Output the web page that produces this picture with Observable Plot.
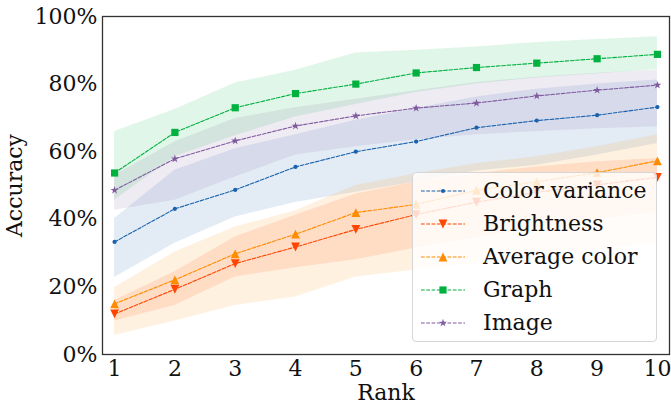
<!DOCTYPE html>
<html>
<head>
<meta charset="utf-8">
<script src="https://cdn.jsdelivr.net/npm/d3@7"></script>
<script src="https://cdn.jsdelivr.net/npm/@observablehq/plot@0.6"></script>
<style>
  html, body { margin: 0; padding: 0; background: white; }
  #wrap { position: relative; width: 671px; height: 404px; }
</style>
</head>
<body>
<div id="wrap"></div>
<script>
const ranks = [1, 2, 3, 4, 5, 6, 7, 8, 9, 10];
const yTicks = [0, 20, 40, 60, 80, 100];
const seriesNames = ["Color variance", "Brightness", "Average color", "Graph", "Image"];
const seriesColors = ["#1a62ad", "#ff4500", "#ff8c00", "#00b140", "#7f5a9e"];

const colorVariance     = [33.3, 43.1, 48.7, 55.5, 60.0, 63.0, 67.1, 69.2, 70.8, 73.2];
const colorVarianceLow  = [22.8, 32.9, 40.7, 45.0, 48.0, 51.0, 54.3, 56.0, 59.0, 62.4];
const colorVarianceHigh = [40.2, 54.5, 60.9, 65.0, 69.3, 72.8, 76.2, 78.5, 80.0, 81.2];

const brightness     = [12.0, 19.3, 26.9, 31.8, 37.0, 41.4, 45.1, 48.0, 50.2, 52.4];
const brightnessLow  = [9.9, 14.5, 22.9, 25.7, 28.0, 31.5, 34.5, 37.5, 40.0, 42.0];
const brightnessHigh = [16.0, 24.5, 34.8, 41.2, 47.5, 51.0, 53.5, 55.5, 57.0, 58.0];

const averageColor     = [15.0, 22.1, 29.8, 35.6, 42.0, 44.4, 48.6, 51.1, 53.8, 57.3];
const averageColorLow  = [5.6, 9.9, 14.5, 17.0, 22.9, 25.0, 27.0, 29.0, 31.0, 33.0];
const averageColorHigh = [19.8, 30.3, 37.7, 42.5, 50.0, 53.5, 56.5, 58.5, 61.5, 65.0];

const graph     = [53.7, 65.7, 73.0, 77.2, 80.0, 83.3, 84.9, 86.2, 87.5, 88.8];
const graphLow  = [45.6, 58.5, 64.7, 70.3, 74.0, 77.5, 80.0, 81.8, 83.0, 84.3];
const graphHigh = [66.0, 72.5, 80.3, 84.1, 89.2, 90.0, 91.0, 92.3, 93.2, 94.0];

const image     = [48.6, 57.9, 63.2, 67.6, 70.6, 72.9, 74.4, 76.5, 78.2, 79.7];
const imageLow  = [42.7, 45.6, 52.5, 59.0, 61.5, 63.5, 65.0, 66.0, 66.8, 67.4];
const imageHigh = [53.0, 62.9, 69.8, 73.0, 75.5, 78.0, 80.5, 82.0, 83.2, 84.2];

const seriesValues = [colorVariance, brightness, averageColor, graph, image];
const seriesLow = [colorVarianceLow, brightnessLow, averageColorLow, graphLow, imageLow];
const seriesHigh = [colorVarianceHigh, brightnessHigh, averageColorHigh, graphHigh, imageHigh];

// custom matplotlib-like marker symbols (R = sqrt(size/pi))
const symCircle = {draw(ctx, size) { const r = Math.sqrt(size / Math.PI); ctx.moveTo(r, 0); ctx.arc(0, 0, r, 0, 2 * Math.PI); }};
const symTriDown = {draw(ctx, size) { const h = Math.sqrt(size / Math.PI); ctx.moveTo(0, h); ctx.lineTo(-h, -h); ctx.lineTo(h, -h); ctx.closePath(); }};
const symTriUp = {draw(ctx, size) { const h = Math.sqrt(size / Math.PI); ctx.moveTo(0, -h); ctx.lineTo(-h, h); ctx.lineTo(h, h); ctx.closePath(); }};
const symSquare = {draw(ctx, size) { const h = Math.sqrt(size / Math.PI); ctx.rect(-h, -h, 2 * h, 2 * h); }};
const symStar = {draw(ctx, size) {
  const R = Math.sqrt(size / Math.PI), r = R * 0.382;
  for (let i = 0; i < 10; i++) {
    const a = -Math.PI / 2 + i * Math.PI / 5, rr = i % 2 ? r : R;
    const x = rr * Math.cos(a), y = rr * Math.sin(a);
    if (i === 0) ctx.moveTo(x, y); else ctx.lineTo(x, y);
  }
  ctx.closePath();
}};
const seriesSymbols = [symCircle, symTriDown, symTriUp, symSquare, symStar];
const seriesMarkerR = [2.1, 4.4, 4.4, 3.6, 4.2];

const rows = [];
seriesNames.forEach((name, i) => {
  ranks.forEach((rk, j) => {
    rows.push({series: name, idx: i, rank: rk, value: seriesValues[i][j], low: seriesLow[i][j], high: seriesHigh[i][j]});
  });
});

const font = "'DejaVu Serif', serif";

const marks = [];
seriesNames.forEach((name, i) => {
  const d = rows.filter(r => r.idx === i);
  marks.push(Plot.areaY(d, {x: "rank", y1: "low", y2: "high", fill: seriesColors[i], fillOpacity: 0.12}));
});
seriesNames.forEach((name, i) => {
  const d = rows.filter(r => r.idx === i);
  marks.push(Plot.line(d, {x: "rank", y: "value", stroke: seriesColors[i], strokeWidth: 1.1, strokeDasharray: "3.7,1.6"}));
  marks.push(Plot.dot(d, {x: "rank", y: "value", symbol: seriesSymbols[i], r: seriesMarkerR[i], fill: seriesColors[i], stroke: "none"}));
});
marks.push(Plot.frame({stroke: "#333", strokeWidth: 1.3}));

const chart = Plot.plot({
  width: 671,
  height: 404,
  marginLeft: 102,
  marginRight: 2,
  marginTop: 16,
  marginBottom: 50,
  style: {fontFamily: font, fontSize: "22px", background: "white", color: "#111", overflow: "visible"},
  x: {domain: [0.8, 10.2], ticks: ranks, tickFormat: d => String(d), tickSize: 0, tickPadding: 6,
      label: "Rank", labelAnchor: "center", labelOffset: 45, labelArrow: false},
  y: {domain: [0, 100], ticks: yTicks, tickFormat: d => d + "%", tickSize: 0, tickPadding: 5,
      label: "Accuracy", labelAnchor: "center", labelOffset: 96, labelArrow: false},
  marks
});

const wrap = document.getElementById("wrap");
wrap.appendChild(chart);

// Legend overlay (matplotlib-style, translucent white box)
const legend = d3.select(wrap).append("div")
  .style("position", "absolute")
  .style("left", "412px")
  .style("top", "172px")
  .style("width", "245px")
  .style("height", "170px")
  .style("box-sizing", "border-box")
  .style("background", "rgba(255,255,255,0.8)")
  .style("border", "1px solid #d6d6d6")
  .style("border-radius", "4px")
  .style("padding-top", "1px")
  .style("font-family", font)
  .style("font-size", "22px")
  .style("color", "#111");

seriesNames.forEach((name, i) => {
  const row = legend.append("div")
    .style("display", "flex")
    .style("align-items", "center")
    .style("height", "33px");
  const svg = row.append("svg")
    .attr("width", 46).attr("height", 14)
    .style("margin-left", "7px")
    .style("margin-right", "17px")
    .style("flex", "none");
  svg.append("line")
    .attr("x1", 1).attr("x2", 45).attr("y1", 7).attr("y2", 7)
    .attr("stroke", seriesColors[i]).attr("stroke-width", 1.1)
    .attr("stroke-dasharray", "3.7,1.6");
  svg.append("path")
    .attr("transform", "translate(23,7)")
    .attr("d", d3.symbol(seriesSymbols[i], Math.PI * seriesMarkerR[i] * seriesMarkerR[i])())
    .attr("fill", seriesColors[i]);
  row.append("span").text(name).style("white-space", "nowrap").style("line-height", "33px");
});
</script>
</body>
</html>
